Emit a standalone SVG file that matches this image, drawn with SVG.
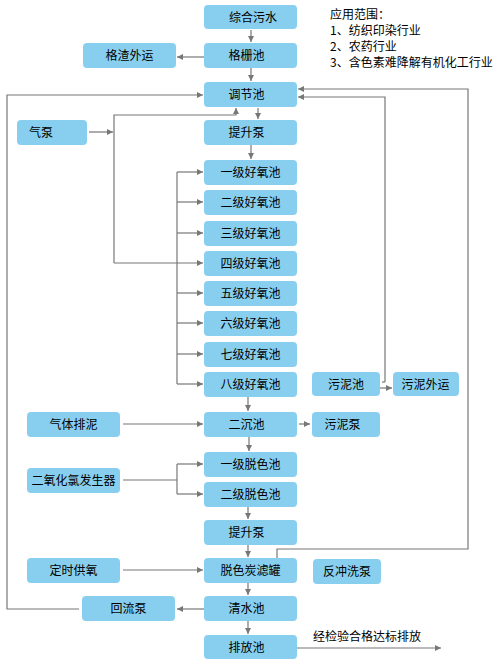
<svg xmlns="http://www.w3.org/2000/svg" width="501" height="672" viewBox="0 0 501 672">
<defs>
<style>
.b{fill:#88CFEF;}
.t{font-family:"Noto Sans CJK SC","Noto Sans",sans-serif;font-size:12px;fill:#000;text-anchor:middle;}
.n{font-family:"Noto Sans CJK SC","Noto Sans",sans-serif;font-size:12px;fill:#000;}
.c{fill:none;stroke:#777;stroke-width:1.2;}
.a{marker-end:url(#ah);}
</style>
<marker id="ah" markerUnits="userSpaceOnUse" markerWidth="7" markerHeight="8" refX="6" refY="4" orient="auto">
<path d="M0,1 L6,4 L0,7 z" fill="#777"/>
</marker>
</defs>
<rect width="501" height="672" fill="#fff"/>

<g id="connectors">
<path class="c a" d="M251,30 V42"/>
<path class="c a" d="M251,68 V81"/>
<path class="c a" d="M204,57 H177"/>
<path class="c a" d="M258,108 V119"/>
<path class="c a" d="M251,145 V159"/>
<path class="c a" d="M89,132 H113"/>
<path class="c a" d="M114,263 V115 H236 V108"/>
<path class="c a" d="M114,263 H203"/>
<path class="c" d="M177,172 V384"/>
<path class="c a" d="M177,172 H203"/>
<path class="c a" d="M177,202 H203"/>
<path class="c a" d="M177,233 H203"/>
<path class="c a" d="M177,293 H203"/>
<path class="c a" d="M177,323 H203"/>
<path class="c a" d="M177,354 H203"/>
<path class="c a" d="M177,384 H203"/>
<path class="c a" d="M248,397 V411"/>
<path class="c a" d="M123,424 H203"/>
<path class="c a" d="M299,424 H310"/>
<path class="c a" d="M249,437 V451"/>
<path class="c" d="M123,480 H177"/>
<path class="c" d="M177,464 V494"/>
<path class="c a" d="M177,464 H203"/>
<path class="c a" d="M177,494 H203"/>
<path class="c a" d="M248,507 V519"/>
<path class="c a" d="M248,545 V557"/>
<path class="c a" d="M123,570 H203"/>
<path class="c a" d="M248,583 V595"/>
<path class="c a" d="M204,609 H177"/>
<path class="c a" d="M79,609 H7 V95 H203"/>
<path class="c a" d="M248,621 V634"/>
<path class="c a" d="M297,648 H441"/>
<path class="c a" d="M385,382 V97 H298"/>
<path class="c" d="M385,382 H382"/>
<path class="c a" d="M380,388 H392"/>
<path class="c a" d="M277,558 V549 H468 V89 H298"/>
</g>

<g id="n1"><rect class="b" x="204" y="5" width="93" height="24" rx="4"/><text class="t" x="253" y="21.5">综合污水</text></g>
<g id="n2"><rect class="b" x="204" y="43" width="93" height="25" rx="4"/><text class="t" x="246.5" y="60">格栅池</text></g>
<g id="n3"><rect class="b" x="83" y="43" width="93" height="25" rx="4"/><text class="t" x="129.5" y="60">格渣外运</text></g>
<g id="n4"><rect class="b" x="204" y="82" width="93" height="25" rx="4"/><text class="t" x="246.5" y="99">调节池</text></g>
<g id="n5"><rect class="b" x="17" y="120" width="70" height="25" rx="4"/><text class="t" x="41" y="137">气泵</text></g>
<g id="n6"><rect class="b" x="204" y="120" width="93" height="25" rx="4"/><text class="t" x="246.5" y="137">提升泵</text></g>
<g id="n7"><rect class="b" x="204" y="160" width="93" height="25" rx="4"/><text class="t" x="250.5" y="177">一级好氧池</text></g>
<g id="n8"><rect class="b" x="204" y="190" width="93" height="25" rx="4"/><text class="t" x="250.5" y="207">二级好氧池</text></g>
<g id="n9"><rect class="b" x="204" y="221" width="93" height="25" rx="4"/><text class="t" x="250.5" y="238">三级好氧池</text></g>
<g id="n10"><rect class="b" x="204" y="251" width="93" height="25" rx="4"/><text class="t" x="250.5" y="268">四级好氧池</text></g>
<g id="n11"><rect class="b" x="204" y="281" width="93" height="25" rx="4"/><text class="t" x="250.5" y="298">五级好氧池</text></g>
<g id="n12"><rect class="b" x="204" y="311" width="93" height="25" rx="4"/><text class="t" x="250.5" y="328">六级好氧池</text></g>
<g id="n13"><rect class="b" x="204" y="342" width="93" height="25" rx="4"/><text class="t" x="250.5" y="359">七级好氧池</text></g>
<g id="n14"><rect class="b" x="204" y="372" width="93" height="25" rx="4"/><text class="t" x="250.5" y="389">八级好氧池</text></g>
<g id="n15"><rect class="b" x="312" y="372" width="68" height="24" rx="4"/><text class="t" x="346" y="388.5">污泥池</text></g>
<g id="n16"><rect class="b" x="393" y="372" width="66" height="24" rx="4"/><text class="t" x="425.5" y="388.5">污泥外运</text></g>
<g id="n17"><rect class="b" x="27" y="412" width="93" height="25" rx="4"/><text class="t" x="73.5" y="429">气体排泥</text></g>
<g id="n18"><rect class="b" x="204" y="412" width="93" height="25" rx="4"/><text class="t" x="246.5" y="429">二沉池</text></g>
<g id="n19"><rect class="b" x="312" y="412" width="68" height="25" rx="4"/><text class="t" x="342.5" y="429">污泥泵</text></g>
<g id="n20"><rect class="b" x="204" y="452" width="93" height="25" rx="4"/><text class="t" x="250.5" y="469">一级脱色池</text></g>
<g id="n21"><rect class="b" x="27" y="468" width="93" height="25" rx="4"/><text class="t" x="73.5" y="485">二氧化氯发生器</text></g>
<g id="n22"><rect class="b" x="204" y="482" width="93" height="25" rx="4"/><text class="t" x="250.5" y="499">二级脱色池</text></g>
<g id="n23"><rect class="b" x="204" y="520" width="93" height="25" rx="4"/><text class="t" x="246.5" y="537">提升泵</text></g>
<g id="n24"><rect class="b" x="27" y="558" width="93" height="25" rx="4"/><text class="t" x="73.5" y="575">定时供氧</text></g>
<g id="n25"><rect class="b" x="204" y="558" width="93" height="25" rx="4"/><text class="t" x="250.5" y="575">脱色炭滤罐</text></g>
<g id="n26"><rect class="b" x="313" y="559" width="68" height="25" rx="4"/><text class="t" x="347" y="576">反冲洗泵</text></g>
<g id="n27"><rect class="b" x="82" y="596" width="93" height="25" rx="4"/><text class="t" x="128.5" y="613">回流泵</text></g>
<g id="n28"><rect class="b" x="204" y="596" width="93" height="25" rx="4"/><text class="t" x="246.5" y="613">清水池</text></g>
<g id="n29"><rect class="b" x="204" y="635" width="93" height="24" rx="4"/><text class="t" x="246.5" y="651.5">排放池</text></g>

<g id="labels">
<text class="n" x="330" y="19">应用范围：</text>
<text class="n" x="330" y="35">1、纺织印染行业</text>
<text class="n" x="330" y="51">2、农药行业</text>
<text class="n" x="330" y="67">3、含色素难降解有机化工行业</text>
<text class="n" x="313" y="641">经检验合格达标排放</text>
</g>
</svg>
